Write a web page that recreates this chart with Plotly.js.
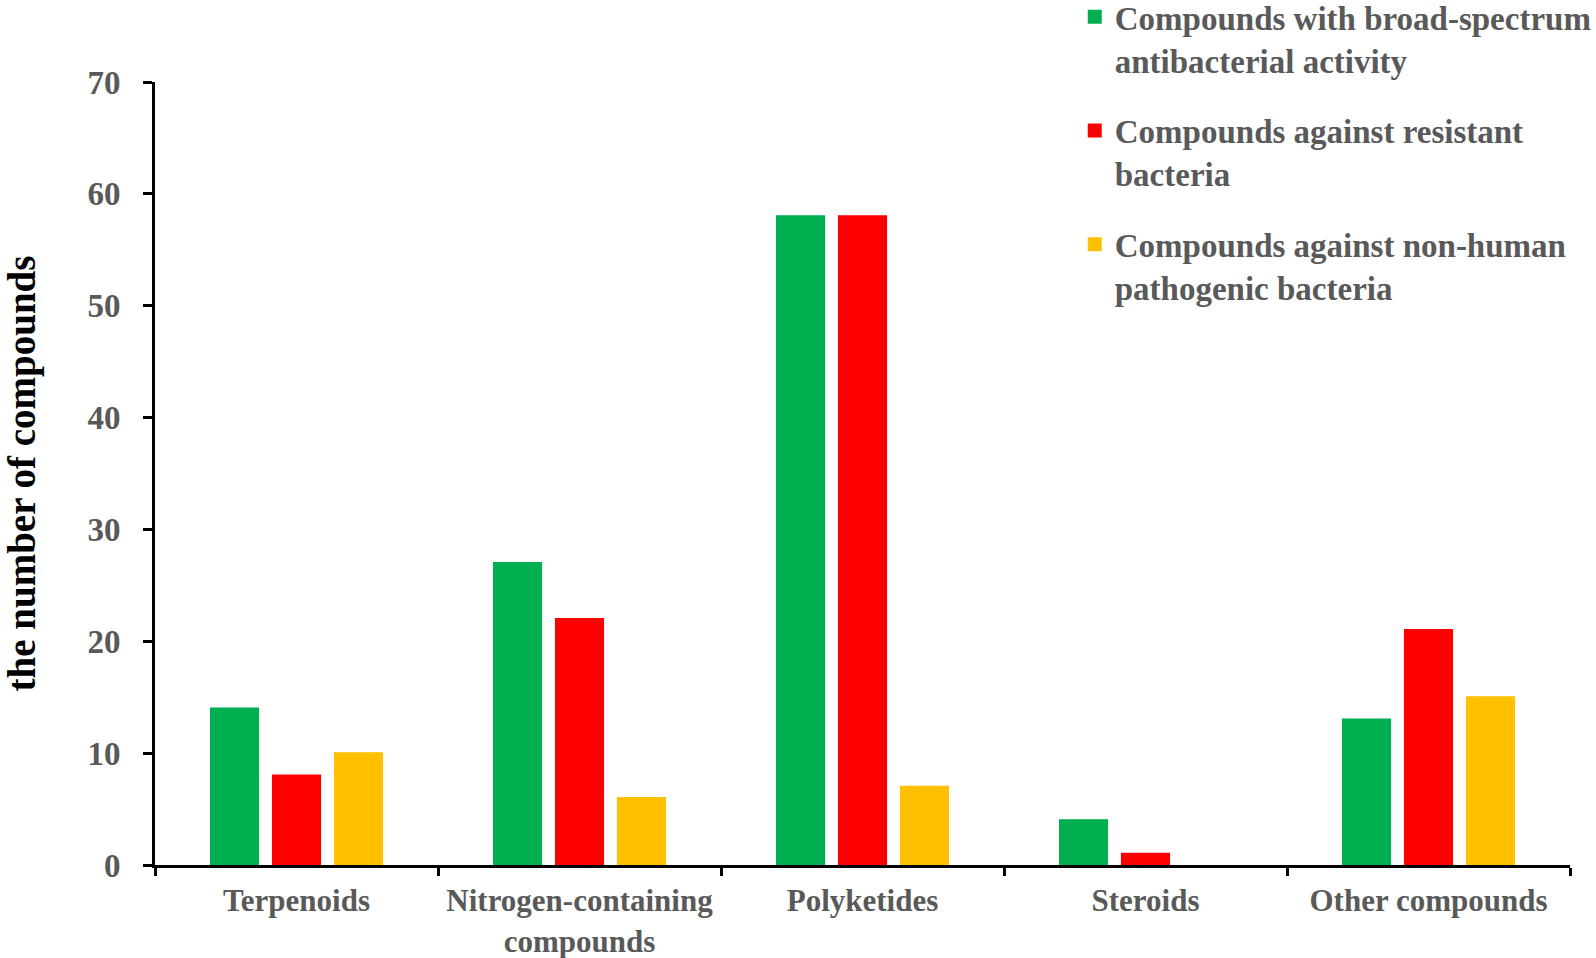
<!DOCTYPE html>
<html>
<head>
<meta charset="utf-8">
<script src="https://cdn.plot.ly/plotly-3.0.1.min.js"></script>
<style>
  html, body { margin: 0; padding: 0; background: #fff; }
  #chart { width: 1596px; height: 958px; }
</style>
</head>
<body>
<div id="chart"></div>
<script>
const categories = ["Terpenoids", "Nitrogen-containing<br>compounds", "Polyketides", "Steroids", "Other compounds"];
const seriesNames = [
  "Compounds with broad-spectrum<br>antibacterial activity",
  "Compounds against resistant<br>bacteria",
  "Compounds against non-human<br>pathogenic bacteria"
];
const broadSpectrum = [14, 27, 58, 4, 13];
const againstResistant = [8, 22, 58, 1, 21];
const nonHumanPathogenic = [10, 6, 7, 0, 15];
const seriesColors = ["#00B050", "#FF0000", "#FFC000"];
const yTicks = [0, 10, 20, 30, 40, 50, 60, 70];

const seriesValues = [broadSpectrum, againstResistant, nonHumanPathogenic];
const traces = seriesValues.map((vals, i) => ({
  type: "bar",
  x: categories,
  y: vals,
  name: seriesNames[i],
  legendgroup: "g" + i,
  marker: {
    color: seriesColors[i],
    line: { color: seriesColors[i], width: vals.map(v => (v > 0 ? 2 : 0)) }
  },
  hoverinfo: "x+y"
}));

const serif = "'Liberation Serif', 'Times New Roman', serif";
const layout = {
  width: 1596,
  height: 958,
  margin: { l: 155, r: 26, t: 82, b: 93, autoexpand: false },
  paper_bgcolor: "#ffffff",
  plot_bgcolor: "#ffffff",
  barmode: "group",
  bargap: 0.343,
  bargroupgap: 0.24,
  font: { family: serif, color: "#595959" },
  xaxis: {
    type: "category",
    showline: true,
    linecolor: "#000000",
    linewidth: 3,
    ticks: "outside",
    tickson: "boundaries",
    ticklen: 8,
    tickwidth: 3,
    tickcolor: "#000000",
    ticklabelstandoff: 6,
    showgrid: false,
    zeroline: false,
    automargin: false,
    tickfont: { family: serif, size: 31, color: "#595959", weight: "bold" }
  },
  yaxis: {
    range: [0, 70],
    tickvals: yTicks,
    ticktext: yTicks.map(String),
    showline: true,
    linecolor: "#000000",
    linewidth: 3,
    ticks: "outside",
    ticklen: 9,
    tickwidth: 3,
    tickcolor: "#000000",
    ticklabelstandoff: 16,
    showgrid: false,
    zeroline: false,
    automargin: false,
    tickfont: { family: serif, size: 33, color: "#595959", weight: "bold" },
    title: {
      text: "the number of compounds",
      font: { family: serif, size: 39, color: "#000000", weight: "bold" },
      standoff: 40
    }
  },
  showlegend: true,
  legend: {
    x: 0.65,
    xanchor: "left",
    y: 1.119,
    yanchor: "top",
    traceorder: "grouped",
    tracegroupgap: 25,
    valign: "top",
    bgcolor: "rgba(0,0,0,0)",
    font: { family: serif, size: 33, color: "#595959", weight: "bold" }
  }
};

Plotly.newPlot("chart", traces, layout, { displayModeBar: false, staticPlot: true });
</script>
</body>
</html>
